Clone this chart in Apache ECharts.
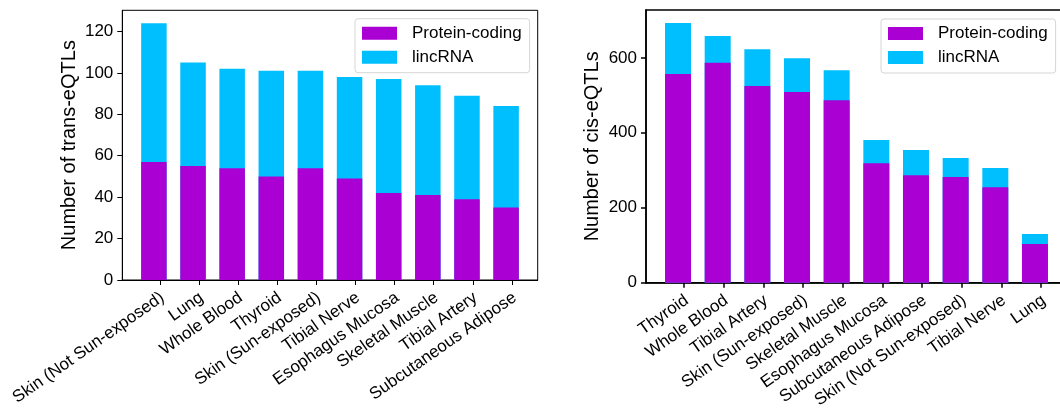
<!DOCTYPE html>
<html>
<head>
<meta charset="utf-8">
<script src="https://cdn.jsdelivr.net/npm/echarts@6/dist/echarts.min.js"></script>
<style>
  html, body { margin: 0; padding: 0; background: #fff; }
  #chart { width: 1060px; height: 409px; }
</style>
</head>
<body>
<div id="chart"></div>
<script>
// trans-eQTLs (left panel)
var transTissues = ["Skin (Not Sun-exposed)", "Lung", "Whole Blood", "Thyroid", "Skin (Sun-exposed)",
  "Tibial Nerve", "Esophagus Mucosa", "Skeletal Muscle", "Tibial Artery", "Subcutaneous Adipose"];
var transProtein = [57, 55, 54, 50, 54, 49, 42, 41, 39, 35];
var transLinc = [67, 50, 48, 51, 47, 49, 55, 53, 50, 49];
var transTicks = [0, 20, 40, 60, 80, 100, 120];

// cis-eQTLs (right panel)
var cisTissues = ["Thyroid", "Whole Blood", "Tibial Artery", "Skin (Sun-exposed)", "Skeletal Muscle",
  "Esophagus Mucosa", "Subcutaneous Adipose", "Skin (Not Sun-exposed)", "Tibial Nerve", "Lung"];
var cisProtein = [557, 587, 525, 509, 487, 319, 287, 282, 255, 103];
var cisLinc = [136, 71, 98, 90, 80, 62, 67, 51, 51, 27];
var cisTicks = [0, 200, 400, 600];

var FONT = "'Liberation Sans', Arial, sans-serif";
var PURPLE = "#aa00d4";
var CYAN = "#00bfff";
var TICK_SHIFT = 0.15;  // tick marks sit a bit right of bar centres
var LABEL_SHIFT = 0.22; // label anchor

// bar i -> [i, value]; lincRNA is drawn as protein + lincRNA behind the protein bar
function pairs(arr) {
  return arr.map(function (v, i) { return [i, v]; });
}
function stackedTop(base, top) {
  return base.map(function (v, i) { return [i, v + top[i]]; });
}

function xAxisFor(idx, names, lw) {
  var tickPos = names.map(function (n, i) { return i + TICK_SHIFT; });
  var labelPos = names.map(function (n, i) { return i + LABEL_SHIFT; });
  return {
    type: "value",
    gridIndex: idx,
    min: -0.8075,
    max: 9.8075,
    splitLine: { show: false },
    axisLine: { onZero: false, lineStyle: { color: "#000", width: lw } },
    axisTick: { customValues: tickPos, length: 5, lineStyle: { color: "#000", width: lw } },
    axisLabel: {
      customValues: labelPos,
      rotate: 35,
      margin: 16,
      fontSize: 17,
      fontFamily: FONT,
      color: "#000",
      formatter: function (v) { return names[Math.round(v - LABEL_SHIFT)]; }
    }
  };
}

function yAxisFor(idx, max, ticks, title, lw, gap) {
  return {
    type: "value",
    gridIndex: idx,
    min: 0,
    max: max,
    name: title,
    nameLocation: "middle",
    nameRotate: 90,
    nameGap: gap,
    nameTextStyle: { fontSize: 20, fontFamily: FONT, color: "#000" },
    splitLine: { show: false },
    axisLine: { show: true, onZero: false, lineStyle: { color: "#000", width: lw } },
    axisTick: { show: true, customValues: ticks, length: 5, lineStyle: { color: "#000", width: lw } },
    axisLabel: { customValues: ticks, margin: 9, fontSize: 17, fontFamily: FONT, color: "#000" }
  };
}

function legendAt(left, top) {
  return {
    orient: "vertical",
    left: left,
    top: top,
    data: ["Protein-coding", "lincRNA"],
    icon: "rect",
    itemWidth: 35,
    itemHeight: 13,
    itemGap: 7,
    padding: [6, 8, 7, 7],
    borderColor: "#d5d5d5",
    borderWidth: 1,
    borderRadius: 3,
    backgroundColor: "#fff",
    selectedMode: false,
    textStyle: { fontSize: 17, fontFamily: FONT, color: "#000", lineHeight: 13, padding: [0, 0, 0, 10] }
  };
}

var chart = echarts.init(document.getElementById("chart"));
var option = {
  animation: false,
  backgroundColor: "#fff",
  grid: [
    { left: 122.3, right: 522.3, top: 10.3, bottom: 129, outerBoundsMode: "none",
      show: true, borderColor: "#000", borderWidth: 1 },
    { left: 646, right: -7, top: 10, bottom: 126.3, outerBoundsMode: "none",
      show: true, borderColor: "#000", borderWidth: 1.5 }
  ],
  legend: [legendAt(355, 18.7), legendAt(881, 19)],
  xAxis: [xAxisFor(0, transTissues, 1), xAxisFor(1, cisTissues, 1.5)],
  yAxis: [
    yAxisFor(0, 130.2, transTicks, "Number of trans-eQTLs", 1, 43),
    yAxisFor(1, 727.65, cisTicks, "Number of cis-eQTLs", 1.5, 44)
  ],
  series: [
    { name: "lincRNA", type: "bar", xAxisIndex: 0, yAxisIndex: 0, barGap: "-100%",
      barWidth: 25.5, itemStyle: { color: CYAN }, data: stackedTop(transProtein, transLinc) },
    { name: "Protein-coding", type: "bar", xAxisIndex: 0, yAxisIndex: 0, barGap: "-100%",
      barWidth: 25.5, itemStyle: { color: PURPLE }, data: pairs(transProtein) },
    { name: "lincRNA", type: "bar", xAxisIndex: 1, yAxisIndex: 1, barGap: "-100%",
      barWidth: 26, itemStyle: { color: CYAN }, data: stackedTop(cisProtein, cisLinc) },
    { name: "Protein-coding", type: "bar", xAxisIndex: 1, yAxisIndex: 1, barGap: "-100%",
      barWidth: 26, itemStyle: { color: PURPLE }, data: pairs(cisProtein) }
  ]
};
chart.setOption(option);
</script>
</body>
</html>
